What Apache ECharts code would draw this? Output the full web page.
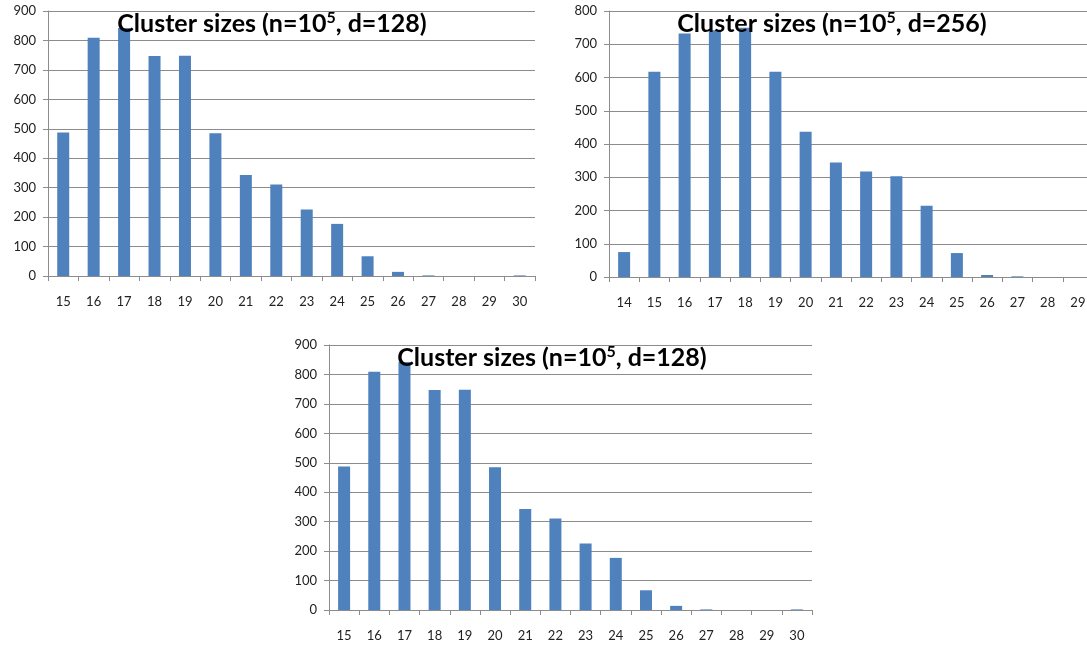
<!DOCTYPE html>
<html><head><meta charset="utf-8">
<script src="https://cdn.jsdelivr.net/npm/echarts@6/dist/echarts.min.js"></script>
<style>html,body{margin:0;padding:0;background:#fff;overflow:hidden;width:1087px;height:645px}#c{width:1120px;height:645px}</style>
</head><body><div id="c"></div>
<script>
// Data
const catsA = ['15','16','17','18','19','20','21','22','23','24','25','26','27','28','29','30'];
const valuesA = [487, 809, 842, 747, 748, 485, 343, 311, 226, 177, 67, 14, 2, 0, 0, 2];
const catsB = ['14','15','16','17','18','19','20','21','22','23','24','25','26','27','28','29'];
const valuesB = [75, 617, 732, 742, 750, 617, 437, 344, 317, 303, 214, 72, 6, 2, 0, 0];
const titleA = ['Cluster sizes (n=10', '5', ', d=128)'];
const titleB = ['Cluster sizes (n=10', '5', ', d=256)'];
const yMaxA = 900, yMaxB = 800, yStep = 100;

const FONT = 'Lato';
const BAR = '#4F81BD';
const GRIDC = '#8c8c8c';

function titleText(t){ return '{a|' + t[0] + '}{s|' + t[1] + '}{a|' + t[2] + '}'; }
const rich = {
  a: {fontFamily: FONT, fontWeight: 'bold', fontSize: 25, color: '#000'},
  s: {fontFamily: FONT, fontWeight: 'bold', fontSize: 16, color: '#000', verticalAlign: 'bottom', padding: [0,0,11,0]}
};
function mkTitle(t, cx, y){
  return {text: titleText(t), left: cx, top: y, textAlign: 'center', textStyle: {rich: rich}, padding: 0};
}
function mkX(cats, gi){
  return {type: 'category', gridIndex: gi, data: cats, boundaryGap: true,
    axisLine: {lineStyle: {color: GRIDC, width: 1}},
    axisTick: {show: true, alignWithLabel: false, length: 5, lineStyle: {color: GRIDC}},
    axisLabel: {fontFamily: FONT, fontSize: 13, color: '#222', margin: 19}};
}
function mkY(max, gi){
  return {type: 'value', gridIndex: gi, min: 0, max: max, interval: yStep,
    axisLine: {show: true, lineStyle: {color: GRIDC, width: 1}},
    axisTick: {show: true, length: 5, lineStyle: {color: GRIDC}},
    splitLine: {show: true, lineStyle: {color: GRIDC, width: 1}},
    axisLabel: {fontFamily: FONT, fontSize: 13, color: '#222', margin: 12}};
}
function mkS(vals, gi){
  return {type: 'bar', xAxisIndex: gi, yAxisIndex: gi, data: vals, barWidth: 12,
    itemStyle: {color: BAR}, animation: false, z: 2};
}

const chart = echarts.init(document.getElementById('c'), null, {renderer: 'canvas', width: 1120, height: 645});
chart.setOption({
  animation: false,
  backgroundColor: '#fff',
  title: [mkTitle(titleA, 272, 10), mkTitle(titleB, 832, 10), mkTitle(titleA, 552, 344)],
  grid: [
    {left: 48, top: 11, width: 487, height: 265},
    {left: 609, top: 11, width: 484, height: 266},
    {left: 329, top: 345, width: 483, height: 265}
  ],
  xAxis: [mkX(catsA, 0), mkX(catsB, 1), mkX(catsA, 2)],
  yAxis: [mkY(yMaxA, 0), mkY(yMaxB, 1), mkY(yMaxA, 2)],
  series: [mkS(valuesA, 0), mkS(valuesB, 1), mkS(valuesA, 2)]
});
</script></body></html>
